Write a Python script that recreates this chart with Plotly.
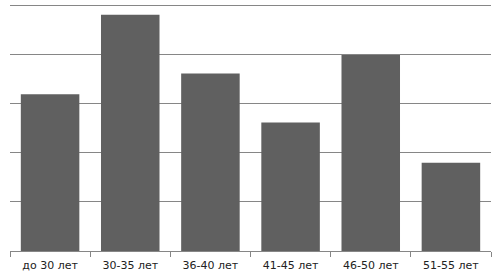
import plotly.graph_objects as go

categories = ["до 30 лет", "30-35 лет", "36-40 лет", "41-45 лет", "46-50 лет", "51-55 лет"]
values = [16.0, 24.1, 18.1, 13.1, 20.0, 9.0]
y_ticks = [0, 5, 10, 15, 20, 25]

fig = go.Figure(go.Bar(x=categories, y=values, marker=dict(color="#606060", line=dict(width=0))))

fig.update_layout(
    width=501, height=279,
    margin=dict(l=10, r=10, t=1, b=28),
    paper_bgcolor="white", plot_bgcolor="white",
    bargap=0.27,
    showlegend=False,
    font=dict(family="DejaVu Sans", size=11, color="#222222"),
)
fig.update_xaxes(
    showline=True, linecolor="#868686", linewidth=1,
    ticks="outside", tickson="boundaries", ticklen=5, tickcolor="#868686",
    showgrid=False, tickfont=dict(size=11), ticklabelstandoff=4,
)
fig.update_yaxes(
    range=[0, 25.5], tickvals=y_ticks, showticklabels=False,
    showgrid=True, gridcolor="#868686", gridwidth=1,
    zeroline=False, showline=False,
)
fig.write_html("out.html")
